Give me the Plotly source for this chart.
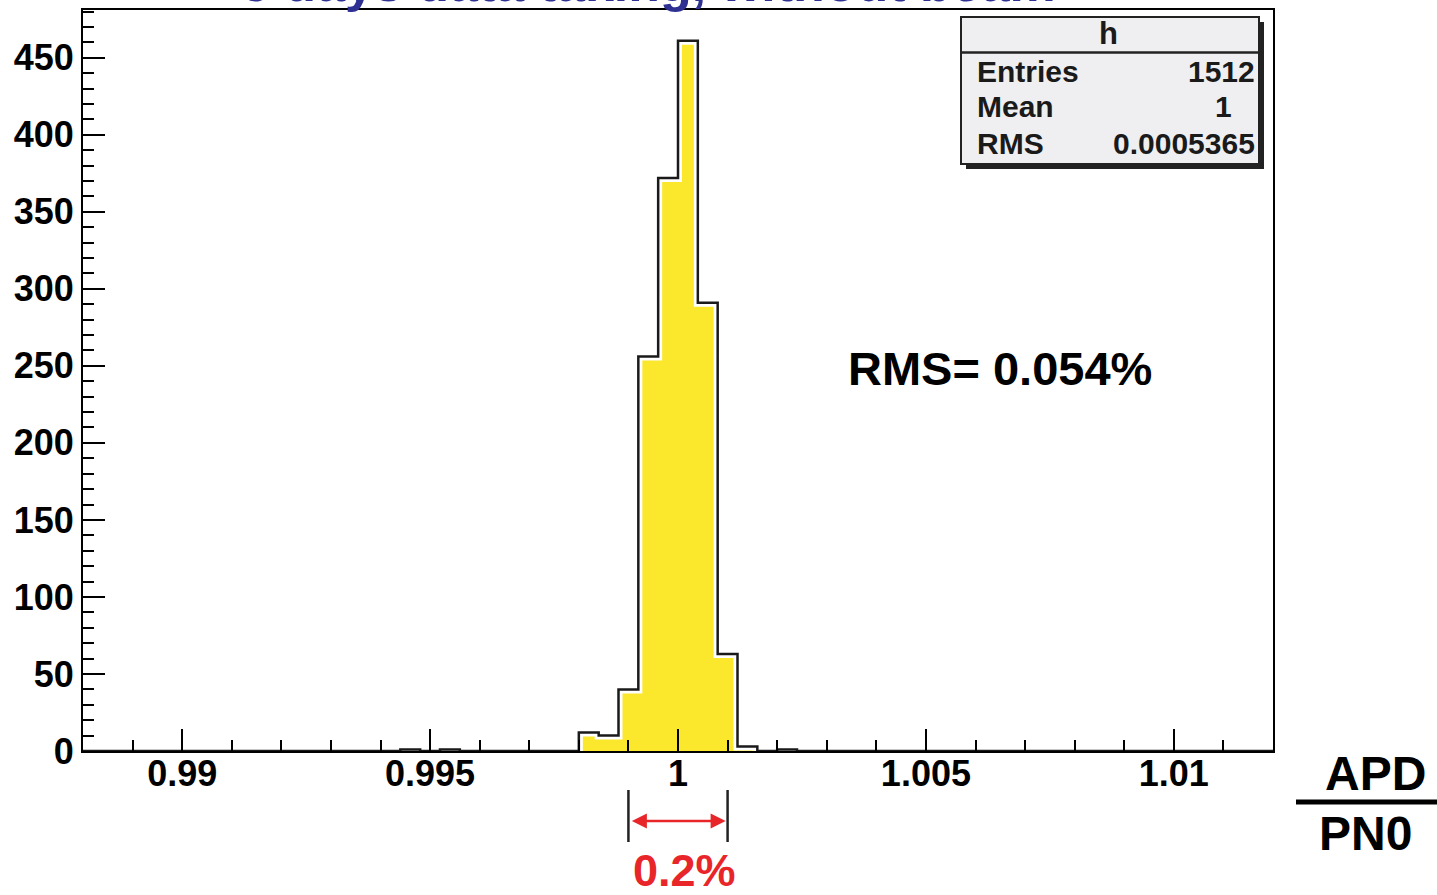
import numpy as np
import plotly.graph_objects as go

# ---- data ----
hist_xmin, hist_xmax, hist_nbins = 0.988, 1.012, 60
bin_centers = [0.9946, 0.9954, 0.9982, 0.9986, 0.9990, 0.9994, 0.9998,
               1.0002, 1.0006, 1.0010, 1.0014, 1.0022]
bin_counts = [1, 1, 12, 10, 40, 256, 372, 461, 291, 63, 3, 1]

x_tick_vals = [0.99, 0.995, 1.0, 1.005, 1.01]
x_tick_text = ["0.99", "0.995", "1", "1.005", "1.01"]

stats_title = "h"
stats_labels = ["Entries", "Mean", "RMS"]
stats_values = ["1512", "1", "0.0005365"]

title_text = "5 days data taking, without beam"
rms_text = "RMS= 0.054%"
band_lo, band_hi = 0.999, 1.001
band_text = "0.2%"

# ---- build full histogram ----
w = (hist_xmax - hist_xmin) / hist_nbins
edges = hist_xmin + w * np.arange(hist_nbins + 1)
counts = np.zeros(hist_nbins)
for c, n in zip(bin_centers, bin_counts):
    idx = int(round((c - hist_xmin) / w - 0.5))
    counts[idx] = n
step_y = np.append(counts, counts[-1])

YELLOW = "#fbe72c"
RED = "#e8262a"
BLUE = "#2e3192"
FONT = "Liberation Sans"

fig = go.Figure()
fig.add_trace(go.Scatter(x=edges, y=step_y, mode="lines", line_shape="hv",
                         line=dict(width=0, color=YELLOW), fill="tozeroy",
                         fillcolor=YELLOW, hoverinfo="skip"))
fig.add_trace(go.Scatter(x=edges, y=step_y, mode="lines", line_shape="hv",
                         line=dict(width=8, color="white"), hoverinfo="skip"))
fig.add_trace(go.Scatter(x=edges, y=step_y, mode="lines", line_shape="hv",
                         line=dict(width=2.5, color="#1a1a1a"), hoverinfo="skip"))

L, R, T, B = 83, 164, 10, 144
W, H = 1437, 895
pw, ph = W - L - R, H - T - B

def px(xp):
    return (xp - L) / pw

def py(yp):
    return (H - B - yp) / ph

tickfont = dict(family=FONT, size=36, color="black", weight="bold")

fig.update_layout(
    width=W, height=H,
    margin=dict(l=L, r=R, t=T, b=B, autoexpand=False),
    paper_bgcolor="white", plot_bgcolor="white",
    showlegend=False,
    xaxis=dict(range=[hist_xmin, hist_xmax], tickmode="array",
               tickvals=x_tick_vals, ticktext=x_tick_text,
               ticks="inside", ticklen=22, tickwidth=2, tickcolor="black",
               showline=True, linewidth=2, linecolor="black", mirror=True,
               showgrid=False, zeroline=False, tickfont=tickfont,
               automargin=False, ticklabelstandoff=-10,
               minor=dict(tickmode="linear", tick0=hist_xmin, dtick=0.001,
                          ticks="inside", ticklen=11, tickwidth=2,
                          tickcolor="black", showgrid=False)),
    yaxis=dict(range=[0, 481], tickmode="linear", tick0=0, dtick=50,
               ticks="inside", ticklen=22, tickwidth=2, tickcolor="black",
               showline=True, linewidth=2, linecolor="black", mirror=True,
               showgrid=False, zeroline=False, tickfont=tickfont,
               automargin=False,
               minor=dict(tickmode="linear", dtick=10, ticks="inside",
                          ticklen=11, tickwidth=2, tickcolor="black",
                          showgrid=False)),
)

shapes = []
# stats box shadow and box
shapes.append(dict(type="rect", xref="paper", yref="paper",
                   x0=px(966), x1=px(1264), y0=py(169), y1=py(22),
                   fillcolor="#222222", line=dict(width=0), layer="above"))
shapes.append(dict(type="rect", xref="paper", yref="paper",
                   x0=px(961), x1=px(1259), y0=py(164), y1=py(17),
                   fillcolor="#efeff1", line=dict(width=2, color="#222222"),
                   layer="above"))
shapes.append(dict(type="line", xref="paper", yref="paper",
                   x0=px(961), x1=px(1259), y0=py(52.5), y1=py(52.5),
                   line=dict(width=2.5, color="#222222"), layer="above"))
# band markers
for xv in (band_lo, band_hi):
    shapes.append(dict(type="line", xref="x", yref="paper", x0=xv, x1=xv,
                       y0=py(790), y1=py(842),
                       line=dict(width=2.5, color="#222222")))
# fraction bar for APD / PN0
shapes.append(dict(type="line", xref="paper", yref="paper",
                   x0=px(1296), x1=px(1437), y0=py(802), y1=py(802),
                   line=dict(width=5, color="black")))
fig.update_layout(shapes=shapes)

ann = []
ann.append(dict(text=title_text, xref="paper", yref="paper",
                x=px(648), y=py(-17), xanchor="center", yanchor="middle",
                showarrow=False,
                font=dict(family=FONT, size=52, color=BLUE, weight="bold")))
ann.append(dict(text=stats_title, xref="paper", yref="paper",
                x=px(1108), y=py(34), xanchor="center", yanchor="middle",
                showarrow=False,
                font=dict(family=FONT, size=31, color="#1a1a1a", weight="bold")))
rows_y = [71, 106, 143]
val_right = [1257, 1234, 1257]
for lab, val, yy, xr in zip(stats_labels, stats_values, rows_y, val_right):
    ann.append(dict(text=lab, xref="paper", yref="paper", x=px(975), y=py(yy),
                    xanchor="left", yanchor="middle", showarrow=False,
                    font=dict(family=FONT, size=30, color="#1a1a1a", weight="bold")))
    ann.append(dict(text=val, xref="paper", yref="paper", x=px(xr), y=py(yy),
                    xanchor="right", yanchor="middle", showarrow=False,
                    font=dict(family=FONT, size=30, color="#1a1a1a", weight="bold")))
ann.append(dict(text=rms_text, xref="paper", yref="paper", x=px(846), y=py(368),
                xanchor="left", yanchor="middle", showarrow=False,
                font=dict(family=FONT, size=47, color="black", weight="bold")))
ann.append(dict(text="", xref="x", yref="paper", x=band_hi - 0.00004, y=py(821),
                axref="x", ayref="pixel", ax=band_lo + 0.00004, ay=0,
                showarrow=True, arrowside="end+start", arrowhead=2,
                arrowsize=1.2, arrowwidth=2.5, arrowcolor=RED))
ann.append(dict(text=band_text, xref="x", yref="paper", x=(band_lo + band_hi) / 2,
                xshift=6, y=py(870), xanchor="center", yanchor="middle",
                showarrow=False,
                font=dict(family=FONT, size=45, color=RED, weight="bold")))
ann.append(dict(text="APD", xref="paper", yref="paper", x=px(1375), y=py(773),
                xanchor="center", yanchor="middle", showarrow=False,
                font=dict(family=FONT, size=48, color="black", weight="bold")))
ann.append(dict(text="PN0", xref="paper", yref="paper", x=px(1365), y=py(833),
                xanchor="center", yanchor="middle", showarrow=False,
                font=dict(family=FONT, size=48, color="black", weight="bold")))
fig.update_layout(annotations=ann)

fig.write_html("out.html", config={"displayModeBar": False},
               post_script="document.body.style.margin='0';"
                           "document.body.style.overflow='hidden';")
